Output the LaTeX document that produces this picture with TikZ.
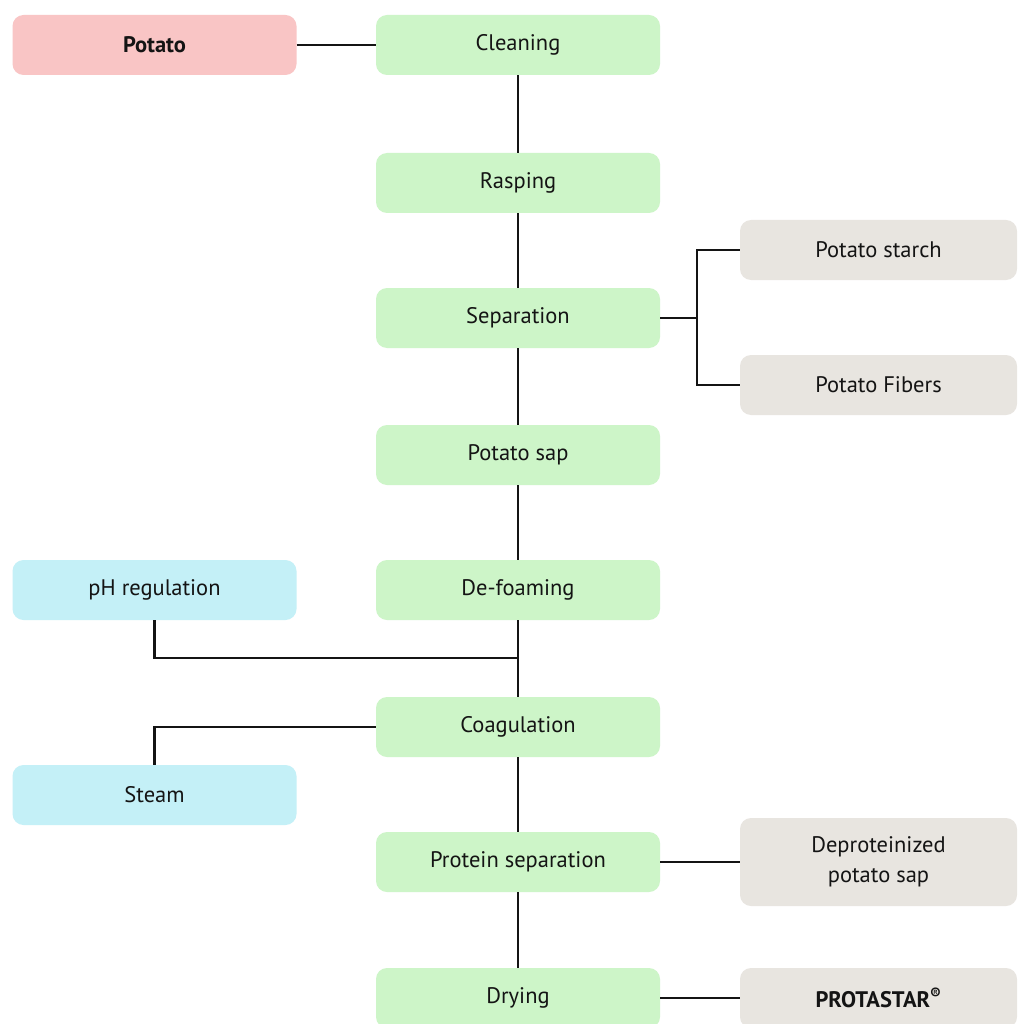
\documentclass[tikz,border=0pt]{standalone}
\usepackage{fontspec}
\setmainfont{PT Sans}
\usetikzlibrary{positioning}

\definecolor{rawpink}{HTML}{F9C5C5}
\definecolor{stepgreen}{HTML}{CDF5C8}
\definecolor{sidegrey}{HTML}{E8E5E0}
\definecolor{addblue}{HTML}{C4F0F7}
\definecolor{inkdark}{HTML}{141414}

\tikzset{
	box/.style={rounded corners=11pt, minimum width=284pt, minimum height=60pt,
		align=center, text=inkdark, font=\fontsize{22.5}{30}\selectfont, inner sep=0pt},
	stepbox/.style={box, fill=stepgreen},
	rawbox/.style={box, fill=rawpink, font=\fontsize{22.5}{30}\selectfont\bfseries},
	outbox/.style={box, fill=sidegrey, minimum width=277pt},
	addbox/.style={box, fill=addblue},
	link/.style={draw=inkdark, line width=2.4pt}
}

\begin{document}
\begin{tikzpicture}[x=1pt, y=-1pt]
	\useasboundingbox[fill=white] (0, 0) rectangle (1017, 1024);

	%% main line
	\node[rawbox] (potato) at (154.5, 45) {Potato};
	\node[stepbox] (clean) at (518, 45) {Cleaning};
	\node[stepbox] (rasp) at (518, 183) {Rasping};
	\node[stepbox] (sep) at (518, 318) {Separation};
	\node[stepbox] (sap) at (518, 455) {Potato sap};
	\node[stepbox] (foam) at (518, 590) {De-foaming};
	\node[stepbox] (coag) at (518, 727) {Coagulation};
	\node[stepbox] (protsep) at (518, 862) {Protein separation};
	\node[stepbox] (dry) at (518, 998) {Drying};

	%% side products
	\node[outbox] (starch) at (878.5, 250) {Potato starch};
	\node[outbox] (fibers) at (878.5, 385) {Potato Fibers};
	\node[outbox, minimum height=88pt] (deprot) at (878.5, 862) {Deproteinized\\potato sap};
	\node[outbox, font=\fontsize{22.5}{30}\selectfont\bfseries] (protastar) at (878.5, 998) {PROTASTAR\textsuperscript{\textregistered}};

	%% additions
	\node[addbox] (ph) at (154.5, 590) {pH regulation};
	\node[addbox] (steam) at (154.5, 795) {Steam};

	%% join points
	\coordinate (split) at (697, 318);
	\coordinate (phjoin) at (518, 658);

	%% connectors
	\draw[link] (potato) -- (clean);
	\draw[link] (clean) -- (rasp);
	\draw[link] (rasp) -- (sep);
	\draw[link] (sep) -- (sap);
	\draw[link] (sap) -- (foam);
	\draw[link] (foam) -- (coag);
	\draw[link] (coag) -- (protsep);
	\draw[link] (protsep) -- (dry);

	\draw[link] (sep.east) -- (split);
	\draw[link] (split) |- (starch.west);
	\draw[link] (split) |- (fibers.west);

	\draw[link] (ph.south) |- (phjoin);
	\draw[link] (steam.north) |- (coag.west);

	\draw[link] (protsep) -- (deprot);
	\draw[link] (dry) -- (protastar);
\end{tikzpicture}
\end{document}
